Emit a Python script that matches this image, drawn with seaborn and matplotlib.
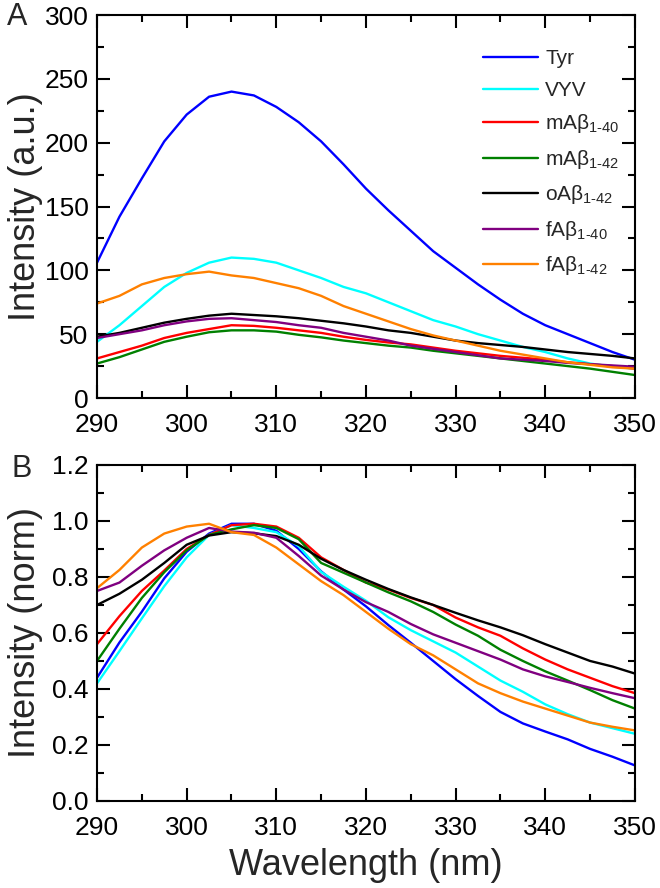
import numpy as np
import pandas as pd
import matplotlib
matplotlib.use("Agg")
import matplotlib.pyplot as plt
from matplotlib.ticker import MultipleLocator, FormatStrFormatter
import seaborn as sns

# wavelength grid (nm)
wavelength = [290, 292.5, 295, 297.5, 300, 302.5, 305, 307.5, 310, 312.5, 315, 317.5, 320,
              322.5, 325, 327.5, 330, 332.5, 335, 337.5, 340, 342.5, 345, 347.5, 350]

samples = ["Tyr", "VYV", "mA\u03b2$_{\\text{1-40}}$", "mA\u03b2$_{\\text{1-42}}$",
           "oA\u03b2$_{\\text{1-42}}$", "fA\u03b2$_{\\text{1-40}}$", "fA\u03b2$_{\\text{1-42}}$"]
colors = ["#0000ff", "#00ffff", "#ff0000", "#008000", "#000000", "#800080", "#ff8000"]

# panel A: raw intensity (a.u.)
tyr_a = [106, 142, 172, 201, 222, 236, 240, 237, 228, 216, 201, 183, 164,
         147, 131, 115, 102, 89, 77, 66, 57, 50, 43, 36, 30]
vyv_a = [44, 57, 72, 87, 98, 106, 110, 109, 106, 100, 94, 87, 82,
         75, 68, 61, 56, 50, 45, 40, 36, 31, 27, 24.5, 23]
m40_a = [31, 36, 41, 47, 51, 54, 57, 56.5, 55, 53, 51, 48, 45.5,
         43.5, 42, 39.5, 37, 35, 33, 31.5, 30, 28, 26.5, 25, 23]
m42_a = [27, 32, 38, 44, 48, 51.5, 53, 53, 52, 49.5, 47.5, 45, 43,
         41, 39.5, 37, 35, 33, 31, 29, 27, 25, 23, 20.5, 18]
o42_a = [48, 51, 55, 59, 62, 64.5, 66, 65, 64, 62.5, 60.5, 58.5, 56,
         53, 51, 48, 45, 43, 41.5, 40, 38, 36, 34.5, 33, 31]
f40_a = [47, 50, 53, 57, 60, 62, 62.5, 61, 59.5, 57, 55, 51, 48,
         45, 41, 38.5, 36, 33.5, 31, 30, 29, 27.5, 26.5, 25.5, 24.5]
f42_a = [74, 80, 89, 94, 97, 99, 96, 94, 90, 86, 80, 72, 66,
         60, 54, 49, 45, 41, 37, 34, 31, 28, 26, 24, 23]

# panel B: normalised intensity
tyr_b = [0.44, 0.566, 0.676, 0.795, 0.89, 0.955, 0.99, 0.99, 0.965, 0.90, 0.82, 0.755, 0.695,
         0.628, 0.565, 0.50, 0.435, 0.375, 0.318, 0.277, 0.248, 0.22, 0.186, 0.158, 0.127]
vyv_b = [0.42, 0.535, 0.652, 0.767, 0.87, 0.95, 0.985, 0.975, 0.96, 0.91, 0.818, 0.765, 0.715,
         0.656, 0.61, 0.57, 0.53, 0.48, 0.43, 0.39, 0.345, 0.31, 0.28, 0.26, 0.24]
m40_b = [0.56, 0.66, 0.75, 0.823, 0.90, 0.95, 0.985, 0.99, 0.98, 0.94, 0.87, 0.825, 0.78,
         0.755, 0.725, 0.70, 0.655, 0.62, 0.59, 0.545, 0.505, 0.47, 0.44, 0.41, 0.385]
m42_b = [0.50, 0.615, 0.725, 0.817, 0.895, 0.95, 0.97, 0.985, 0.975, 0.935, 0.85, 0.815, 0.78,
         0.745, 0.713, 0.675, 0.63, 0.59, 0.54, 0.50, 0.463, 0.43, 0.396, 0.36, 0.33]
o42_b = [0.70, 0.74, 0.79, 0.85, 0.915, 0.948, 0.96, 0.956, 0.946, 0.915, 0.865, 0.825, 0.79,
         0.757, 0.727, 0.70, 0.672, 0.645, 0.62, 0.592, 0.56, 0.53, 0.50, 0.48, 0.455]
f40_b = [0.75, 0.78, 0.84, 0.895, 0.94, 0.975, 0.962, 0.958, 0.94, 0.875, 0.805, 0.755, 0.71,
         0.675, 0.632, 0.595, 0.565, 0.535, 0.505, 0.47, 0.445, 0.425, 0.404, 0.385, 0.367]
f42_b = [0.76, 0.825, 0.905, 0.955, 0.98, 0.99, 0.96, 0.95, 0.905, 0.845, 0.785, 0.735, 0.675,
         0.615, 0.56, 0.52, 0.47, 0.42, 0.385, 0.355, 0.33, 0.305, 0.28, 0.265, 0.252]


def long_frame(series):
    rows = []
    for name, vals in zip(samples, series):
        rows.append(pd.DataFrame({"wavelength": wavelength, "intensity": vals, "sample": name}))
    return pd.concat(rows, ignore_index=True)


df_a = long_frame([tyr_a, vyv_a, m40_a, m42_a, o42_a, f40_a, f42_a])
df_b = long_frame([tyr_b, vyv_b, m40_b, m42_b, o42_b, f40_b, f42_b])
palette = dict(zip(samples, colors))

sns.set_theme(style="ticks")
plt.rcParams["font.family"] = ["Liberation Sans", "DejaVu Sans"]
plt.rcParams["mathtext.fontset"] = "custom"
plt.rcParams["mathtext.rm"] = "Liberation Sans"
plt.rcParams["mathtext.it"] = "Liberation Sans:italic"
plt.rcParams["axes.unicode_minus"] = False

fig = plt.figure(figsize=(6.6, 8.88), dpi=100)
ax_a = fig.add_axes([0.147, 0.5518, 0.815, 0.4313])
ax_b = fig.add_axes([0.147, 0.098, 0.815, 0.3784])

for ax, df in [(ax_a, df_a), (ax_b, df_b)]:
    sns.lineplot(data=df, x="wavelength", y="intensity", hue="sample", palette=palette,
                 hue_order=samples, linewidth=1.7, legend=False, ax=ax)
    ax.set_xlim(290, 350)
    ax.xaxis.set_major_locator(MultipleLocator(10))
    ax.xaxis.set_minor_locator(MultipleLocator(5))
    ax.tick_params(which="both", direction="in", top=True, right=True, width=1.5,
                   labelsize=19, colors="black")
    ax.tick_params(which="major", length=9.5)
    ax.tick_params(which="minor", length=5)
    ax.tick_params(axis="x", pad=11)
    ax.tick_params(axis="y", pad=6)
    for sp in ax.spines.values():
        sp.set_linewidth(1.5)
        sp.set_color("black")
    ax.set_xlabel("")

ax_a.set_ylim(0, 300)
ax_a.yaxis.set_major_locator(MultipleLocator(50))
ax_a.yaxis.set_minor_locator(MultipleLocator(25))
ax_a.set_ylabel("Intensity (a.u.)", fontsize=26)
ax_a.yaxis.set_label_coords(-0.1, 0.5)

ax_b.set_ylim(0, 1.2)
ax_b.yaxis.set_major_locator(MultipleLocator(0.2))
ax_b.yaxis.set_minor_locator(MultipleLocator(0.1))
ax_b.yaxis.set_major_formatter(FormatStrFormatter("%.1f"))
ax_b.set_ylabel("Intensity (norm)", fontsize=26)
ax_b.yaxis.set_label_coords(-0.1, 0.5)
ax_b.set_xlabel("Wavelength (nm)", fontsize=26)
ax_b.xaxis.set_label_coords(0.5, -0.14)

leg = ax_a.legend(ax_a.get_lines(), samples, loc="upper left", bbox_to_anchor=(0.717, 0.91),
                  frameon=False, fontsize=15, handlelength=2.65, handletextpad=0.35,
                  labelspacing=0.6, borderpad=0, borderaxespad=0)

fig.text(0.0106, 0.9977, "A", fontsize=22, va="top", ha="left")
fig.text(0.018, 0.4887, "B", fontsize=22, va="top", ha="left")

fig.savefig("out.png", dpi=100)
